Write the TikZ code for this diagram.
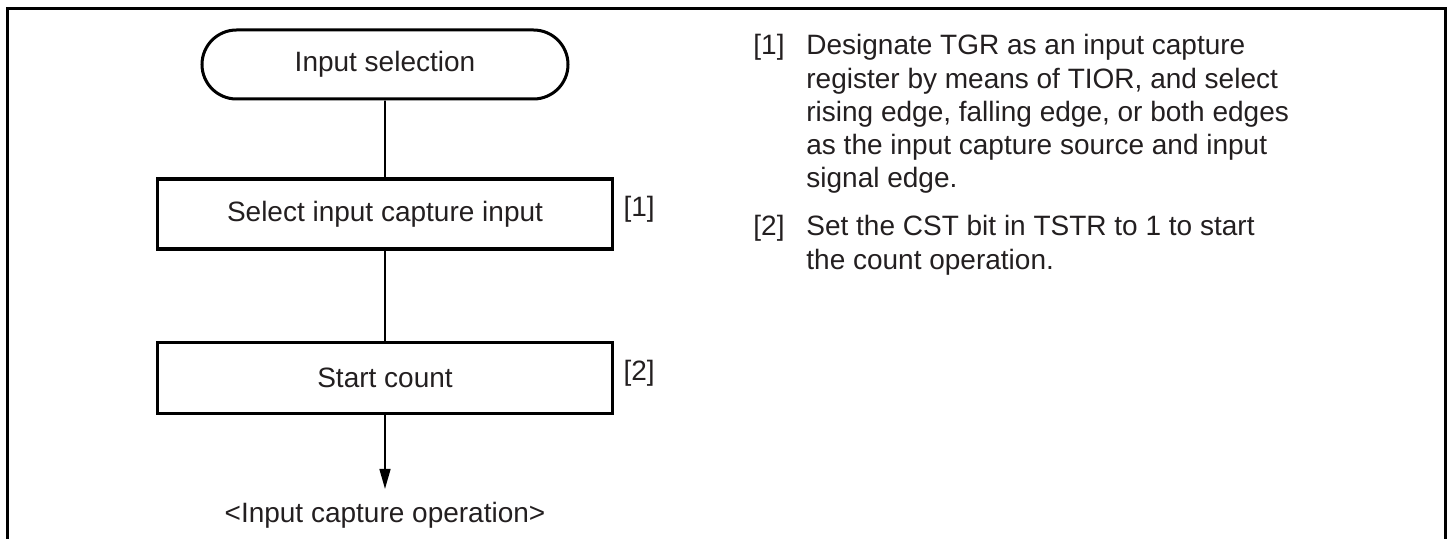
\documentclass[tikz,border=0pt]{standalone}
\usepackage{fontspec}
\setmainfont{Liberation Sans}
\usepackage{xcolor}
\usepackage{tikz}
\usetikzlibrary{shapes.misc, arrows.meta, positioning}
\definecolor{inkblack}{RGB}{0,0,0}
\definecolor{textgray}{RGB}{35,31,32}
\newcommand{\flowfont}{\fontsize{14}{16.6}\selectfont}
\tikzset{
  terminal/.style={
    rounded rectangle, draw=inkblack, line width=1.5pt,
    minimum width=183pt, minimum height=34.5pt, inner sep=0pt,
    text centered, font=\flowfont, text=textgray
  },
  stepbox/.style={
    rectangle, draw=inkblack, line width=1.6pt,
    minimum width=227.5pt, minimum height=35pt, inner sep=0pt,
    text centered, font=\flowfont, text=textgray
  },
  steplabel/.style={inner sep=0pt, font=\flowfont, text=textgray},
  notetext/.style={align=left, inner sep=0pt, font=\flowfont, text=textgray},
  line/.style={line width=0.8pt, color=inkblack},
  arrow/.style={-{Triangle[length=10pt, width=5.5pt]}, line width=0.8pt, color=inkblack},
  framebox/.style={line width=1.5pt, color=inkblack}
}

\begin{document}
\begin{tikzpicture}[x=1pt, y=1pt]
  \useasboundingbox (0,0) rectangle (724,-269.5);
  % outer frame, open at the bottom
  \draw[framebox] (3.5,-269.5) |- (722.5,-4.5) -- (722.5,-269.5);

  % flow
  \node[terminal] (start) at (192.5,-32.25) {Input selection};
  \node[stepbox, below=38.5pt of start] (sel) {Select input capture input};
  \node[stepbox, minimum height=35.5pt, below=45pt of sel] (cnt) {Start count};
  \node[steplabel, below=43.5pt of cnt] (op) {<Input capture operation>};

  \node[steplabel, right=4.5pt of sel.east, yshift=2.5pt] (l1) {[1]};
  \node[steplabel, right=4.5pt of cnt.east, yshift=2.5pt] (l2) {[2]};

  \draw[line] (start) -- (sel);
  \draw[line] (sel) -- (cnt);
  \draw[arrow, shorten >=6.5pt] (cnt) -- (op);

  % notes (base anchor sits on the last line)
  \node[steplabel, anchor=base west] (n1) at (376.5,-27.5) {[1]};
  \node[notetext, anchor=base west] (t1) at (403,-93.9)
    {Designate TGR as an input capture\\
     register by means of TIOR, and select\\
     rising edge, falling edge, or both edges\\
     as the input capture source and input\\
     signal edge.};
  \node[steplabel, anchor=base west] (n2) at (376.5,-118) {[2]};
  \node[notetext, anchor=base west] (t2) at (403,-134.6)
    {Set the CST bit in TSTR to 1 to start\\
     the count operation.};
\end{tikzpicture}
\end{document}
